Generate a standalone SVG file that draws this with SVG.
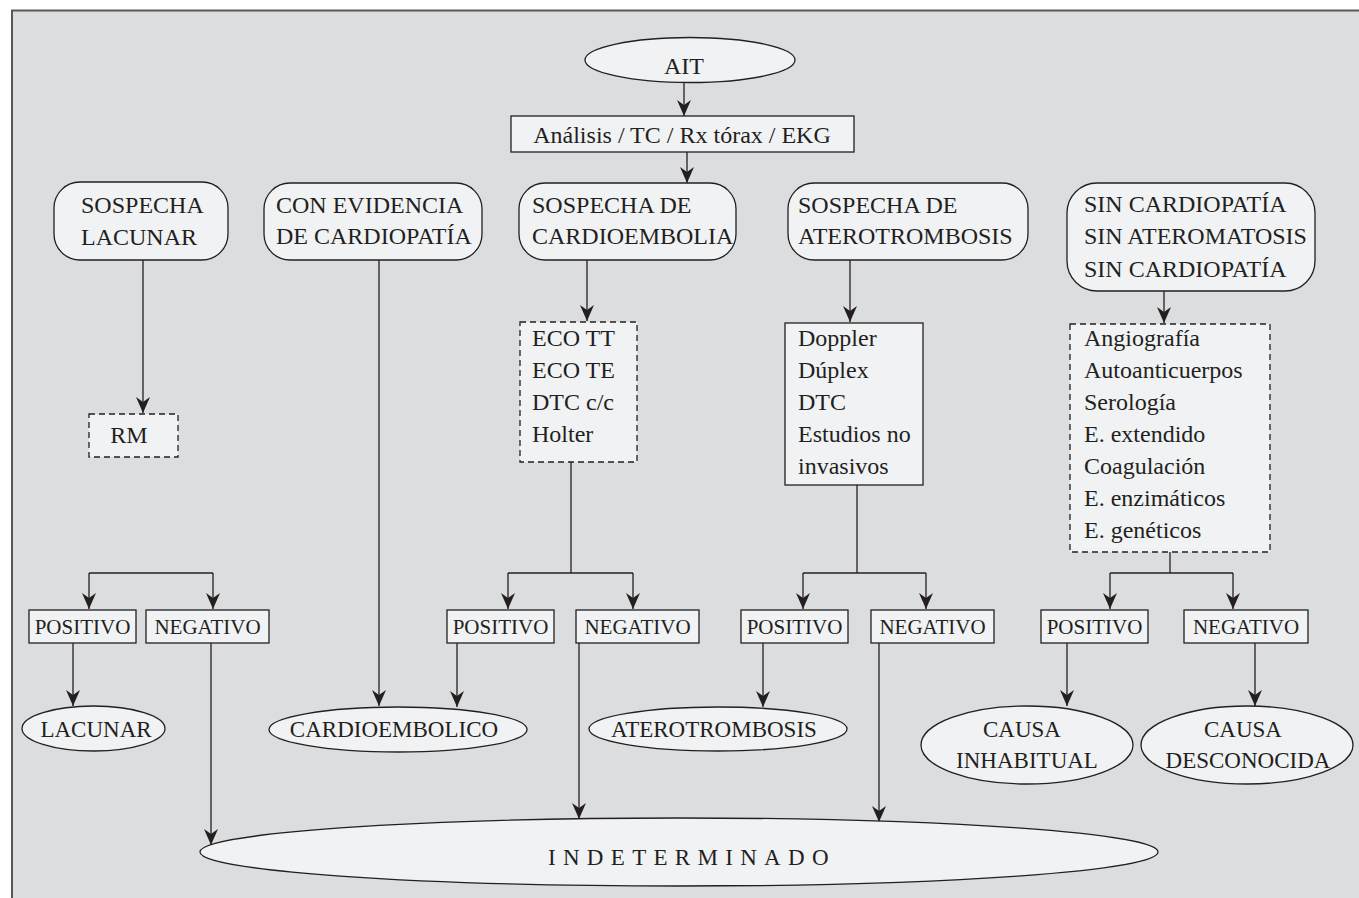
<svg xmlns="http://www.w3.org/2000/svg" width="1359" height="898" viewBox="0 0 1359 898">
<defs>
<marker id="ah" markerUnits="userSpaceOnUse" markerWidth="16" markerHeight="14" refX="16" refY="7" orient="auto">
<path d="M0,0 L16,7 L0,14 L5,7 Z" fill="#231f20"/>
</marker>
</defs>
<style>
.n{fill:#f1f2f4;stroke:#231f20;stroke-width:1.3}
.d{fill:#f1f2f4;stroke:#231f20;stroke-width:1.3;stroke-dasharray:6,4}
.t{font-family:"Liberation Serif","Times New Roman",serif;font-size:24px;fill:#231f20}
.s{font-family:"Liberation Serif","Times New Roman",serif;font-size:21px;fill:#231f20}
.e{font-family:"Liberation Serif","Times New Roman",serif;font-size:23px;fill:#231f20}
.c{text-anchor:middle}
.l{fill:none;stroke:#231f20;stroke-width:1.3}
.a{fill:none;stroke:#231f20;stroke-width:1.3;marker-end:url(#ah)}
</style>
<rect x="0" y="0" width="1359" height="898" fill="#ffffff"/>
<rect x="12" y="10.5" width="1360" height="900" fill="#dcdddf" stroke="#58595b" stroke-width="2"/>

<g id="connectors">
<line class="a" x1="684" y1="82" x2="684" y2="116"/>
<line class="a" x1="687" y1="152" x2="687" y2="183"/>
<line class="a" x1="143" y1="260" x2="143" y2="413"/>
<line class="a" x1="379" y1="260" x2="379" y2="706"/>
<line class="a" x1="587" y1="260" x2="587" y2="321"/>
<line class="a" x1="850" y1="260" x2="850" y2="322"/>
<line class="a" x1="1164" y1="291" x2="1164" y2="323"/>
<path class="l" d="M571,462 V573"/>
<path class="l" d="M857,485 V573"/>
<path class="l" d="M1170,552 V573"/>
<path class="a" d="M89,573 V609"/>
<path class="a" d="M213,573 V609"/>
<path class="l" d="M89,573 H213"/>
<path class="a" d="M508,573 V609"/>
<path class="a" d="M633,573 V609"/>
<path class="l" d="M508,573 H633"/>
<path class="a" d="M803,573 V609"/>
<path class="a" d="M926,573 V609"/>
<path class="l" d="M803,573 H926"/>
<path class="a" d="M1110,573 V609"/>
<path class="a" d="M1233,573 V609"/>
<path class="l" d="M1110,573 H1233"/>
<line class="a" x1="73" y1="643" x2="73" y2="706"/>
<line class="a" x1="211" y1="643" x2="211" y2="845"/>
<line class="a" x1="457" y1="643" x2="457" y2="707"/>
<line class="a" x1="579" y1="643" x2="579" y2="819"/>
<line class="a" x1="763" y1="643" x2="763" y2="707"/>
<line class="a" x1="879" y1="643" x2="879" y2="822"/>
<line class="a" x1="1067" y1="643" x2="1067" y2="706"/>
<line class="a" x1="1255" y1="643" x2="1255" y2="706"/>
</g>

<g id="ait"><ellipse class="n" cx="690" cy="60" rx="105" ry="22.5"/><text class="t c" x="684" y="74">AIT</text></g>
<g id="analisis"><rect class="n" x="511" y="116" width="343" height="36"/><text class="t c" x="682" y="143">Análisis / TC / Rx tórax / EKG</text></g>

<g id="sosp-lacunar"><rect class="n" x="54" y="182" width="174" height="78" rx="26"/><text class="t" x="81" y="213">SOSPECHA</text><text class="t" x="81" y="245">LACUNAR</text></g>
<g id="con-evidencia"><rect class="n" x="264" y="183" width="218" height="77" rx="26"/><text class="t" x="276" y="213">CON EVIDENCIA</text><text class="t" x="276" y="244">DE CARDIOPATÍA</text></g>
<g id="sosp-cardio"><rect class="n" x="519" y="183" width="217" height="77" rx="26"/><text class="t" x="532" y="213">SOSPECHA DE</text><text class="t" x="532" y="244">CARDIOEMBOLIA</text></g>
<g id="sosp-atero"><rect class="n" x="788" y="183" width="240" height="77" rx="26"/><text class="t" x="798" y="213">SOSPECHA DE</text><text class="t" x="798" y="244">ATEROTROMBOSIS</text></g>
<g id="sin"><rect class="n" x="1067" y="183" width="248" height="108" rx="30"/><text class="t" x="1084" y="212">SIN CARDIOPATÍA</text><text class="t" x="1084" y="244">SIN ATEROMATOSIS</text><text class="t" x="1084" y="277">SIN CARDIOPATÍA</text></g>

<g id="rm"><rect class="d" x="89" y="414" width="89" height="43"/><text class="t c" x="129" y="443">RM</text></g>
<g id="eco"><rect class="d" x="520" y="322" width="117" height="140"/><text class="t" x="532" y="346">ECO TT</text><text class="t" x="532" y="378">ECO TE</text><text class="t" x="532" y="410">DTC c/c</text><text class="t" x="532" y="442">Holter</text></g>
<g id="doppler"><rect class="n" x="785" y="323" width="138" height="162"/><text class="t" x="798" y="346">Doppler</text><text class="t" x="798" y="378">Dúplex</text><text class="t" x="798" y="410">DTC</text><text class="t" x="798" y="442">Estudios no</text><text class="t" x="798" y="474">invasivos</text></g>
<g id="angio"><rect class="d" x="1070" y="324" width="200" height="228"/><text class="t" x="1084" y="346">Angiografía</text><text class="t" x="1084" y="378">Autoanticuerpos</text><text class="t" x="1084" y="410">Serología</text><text class="t" x="1084" y="442">E. extendido</text><text class="t" x="1084" y="474">Coagulación</text><text class="t" x="1084" y="506">E. enzimáticos</text><text class="t" x="1084" y="538">E. genéticos</text></g>

<g id="pos1"><rect class="n" x="29" y="610" width="107" height="33"/><text class="s c" x="82.5" y="634">POSITIVO</text></g>
<g id="neg1"><rect class="n" x="146" y="610" width="123" height="33"/><text class="s c" x="207.5" y="634">NEGATIVO</text></g>
<g id="pos2"><rect class="n" x="447" y="610" width="107" height="33"/><text class="s c" x="500.5" y="634">POSITIVO</text></g>
<g id="neg2"><rect class="n" x="576" y="610" width="123" height="33"/><text class="s c" x="637.5" y="634">NEGATIVO</text></g>
<g id="pos3"><rect class="n" x="741" y="610" width="107" height="33"/><text class="s c" x="794.5" y="634">POSITIVO</text></g>
<g id="neg3"><rect class="n" x="871" y="610" width="123" height="33"/><text class="s c" x="932.5" y="634">NEGATIVO</text></g>
<g id="pos4"><rect class="n" x="1041" y="610" width="107" height="33"/><text class="s c" x="1094.5" y="634">POSITIVO</text></g>
<g id="neg4"><rect class="n" x="1184" y="610" width="124" height="33"/><text class="s c" x="1246" y="634">NEGATIVO</text></g>

<g id="lacunar"><ellipse class="n" cx="93.5" cy="728.5" rx="71.5" ry="22.5"/><text class="e c" x="96" y="737">LACUNAR</text></g>
<g id="cardioembolico"><ellipse class="n" cx="398" cy="729.5" rx="129" ry="22.5"/><text class="e c" x="394" y="737">CARDIOEMBOLICO</text></g>
<g id="aterotrombosis"><ellipse class="n" cx="718" cy="729" rx="129" ry="22"/><text class="e c" x="714" y="737">ATEROTROMBOSIS</text></g>
<g id="inhabitual"><ellipse class="n" cx="1027" cy="745" rx="106" ry="39"/><text class="e c" x="1022" y="737">CAUSA</text><text class="e c" x="1027" y="768">INHABITUAL</text></g>
<g id="desconocida"><ellipse class="n" cx="1247" cy="745" rx="106" ry="39"/><text class="e c" x="1243" y="737">CAUSA</text><text class="e c" x="1248" y="768">DESCONOCIDA</text></g>
<g id="indeterminado"><ellipse class="n" cx="679" cy="852" rx="479" ry="34"/><text class="e" x="548" y="865" letter-spacing="7.3" font-size="22">INDETERMINADO</text></g>
</svg>
